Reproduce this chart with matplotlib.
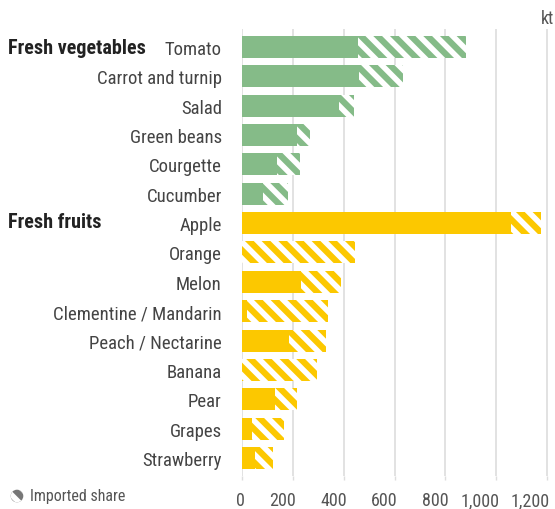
import matplotlib.pyplot as plt
import matplotlib.transforms as mtransforms
from matplotlib import font_manager
from matplotlib.patches import Circle

# pick a narrow font if one is installed
names = {f.name for f in font_manager.fontManager.ttflist}
font = 'Roboto'
for cand in ['Roboto Condensed', 'Liberation Sans Narrow', 'Roboto']:
    if cand in names:
        font = cand
        break
plt.rcParams['font.family'] = [font, 'DejaVu Sans']
plt.rcParams['hatch.linewidth'] = 4

# Data (kt): domestic production and imported share
vegetables = ['Tomato', 'Carrot and turnip', 'Salad', 'Green beans', 'Courgette', 'Cucumber']
veg_domestic = [457, 462, 380, 218, 138, 83]
veg_total = [882, 634, 441, 268, 228, 181]

fruits = ['Apple', 'Orange', 'Melon', 'Clementine / Mandarin', 'Peach / Nectarine',
          'Banana', 'Pear', 'Grapes', 'Strawberry']
fruit_domestic = [1056, 0, 232, 18, 185, 0, 130, 39, 51]
fruit_total = [1174, 445, 390, 339, 331, 296, 217, 165, 122]

green = '#85BB88'
yellow = '#FCC800'

labels = vegetables + fruits
domestic = veg_domestic + fruit_domestic
total = veg_total + fruit_total
colors = [green] * len(vegetables) + [yellow] * len(fruits)
imported = [t - d for t, d in zip(total, domestic)]
ypos = list(range(len(labels)))

fig = plt.figure(figsize=(5.55, 5.10), dpi=100)
ax = fig.add_axes([0.436, 0.0655, 0.564, 0.875])

ax.barh(ypos, domestic, height=0.75, color=colors, linewidth=0, zorder=2)
ax.barh(ypos, imported, left=domestic, height=0.75, color=colors,
        edgecolor='white', hatch='\\\\', linewidth=0, zorder=2)

ax.set_xlim(0, 1231)
ax.set_ylim(len(labels) - 0.4, -0.6)
ax.set_xticks([0, 200, 400, 600, 800, 1000, 1200])
ax.set_xticklabels(['0', '200', '400', '600', '800', '1,000', '1,200'])
ax.set_yticks(ypos)
ax.set_yticklabels(labels)
ax.tick_params(axis='y', length=0, pad=14.5, labelsize=13.5, labelcolor='#444444')
ax.tick_params(axis='x', length=3, width=1, color='#dddddd', pad=8, labelsize=13,
               labelcolor='#555555')
shift = mtransforms.ScaledTranslation(3 / 100, 0, fig.dpi_scale_trans)
for lbl in ax.get_xticklabels():
    lbl.set_ha('right')
    lbl.set_transform(lbl.get_transform() + shift)
ax.grid(True, axis='x', color='#dddddd', linewidth=1.2, zorder=0)
ax.set_axisbelow(True)
for s in ax.spines.values():
    s.set_visible(False)

# group labels
fig.text(8 / 555, 1 - 48 / 510, 'Fresh vegetables', fontsize=14.5, fontweight='bold',
         color='#222222', va='center', ha='left')
fig.text(8 / 555, 1 - 222 / 510, 'Fresh fruits', fontsize=14.5, fontweight='bold',
         color='#222222', va='center', ha='left')

# unit
fig.text(548 / 555, 1 - 19 / 510, 'kt', fontsize=13, color='#555555', ha='center', va='center')

# legend
lax = fig.add_axes([10 / 555, 1 - 504 / 510, 14 / 555, 14 / 510])
lax.set_xlim(-1, 1)
lax.set_ylim(-1, 1)
lax.set_aspect('equal')
lax.add_patch(Circle((0, 0), 0.9, facecolor='#777777', edgecolor='white',
                     hatch='\\\\', linewidth=0))
lax.axis('off')
fig.text(30 / 555, 1 - 497 / 510, 'Imported share', fontsize=11.5, color='#555555',
         ha='left', va='center')

fig.savefig('out.png', dpi=100)
